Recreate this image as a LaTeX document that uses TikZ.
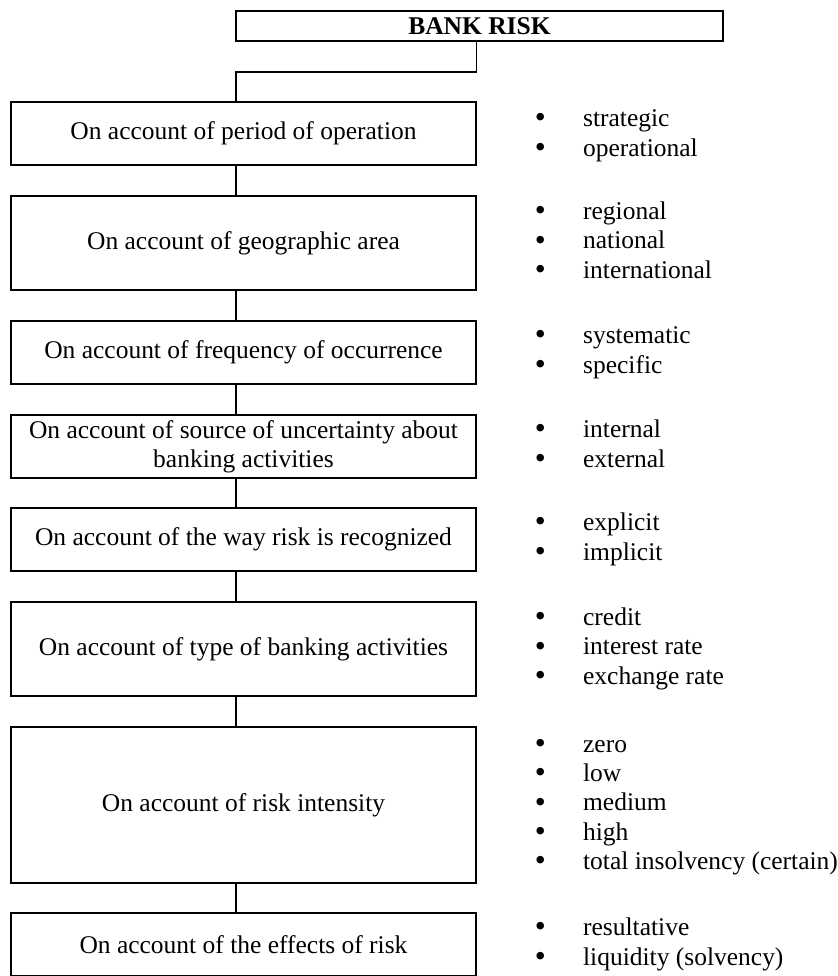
\documentclass[tikz,border=0pt]{standalone}
\usepackage{fontspec}
\setmainfont{Liberation Serif}
\usetikzlibrary{positioning}

\tikzset{
  catbox/.style={draw,line width=0.7pt,minimum width=237.2pt,minimum height=32.1pt,align=center,inner sep=2pt},
  midbox/.style={catbox,minimum height=47.9pt},
  bigbox/.style={catbox,minimum height=79.6pt},
  headbox/.style={draw,line width=0.7pt,minimum width=248.4pt,minimum height=15.3pt,inner sep=0pt,
    font=\fontsize{13}{15}\selectfont\bfseries},
  proplist/.style={anchor=west,inner sep=0pt,align=left}
}
\newcommand{\blt}{{\fontsize{16}{15}\selectfont\raisebox{-0.6pt}{\textbullet}}}
\newcommand{\props}[1]{\begin{tabular}{@{}c@{\hspace{19pt}}l@{}}#1\end{tabular}}

\begin{document}
\begin{tikzpicture}[x=0.51pt,y=-0.51pt,font=\fontsize{13}{15}\selectfont]
      \useasboundingbox (0,0) rectangle (838,976);

      % head of the tree
      \node[headbox] (risk) at (479.5,26) {BANK RISK};
      \coordinate (bend) at (236,72);

      % left column: criteria
      \node[catbox] (c1) at (243.5,133.5) {On account of period of operation};
      \node[midbox] (c2) at (243.5,243) {On account of geographic area};
      \node[catbox] (c3) at (243.5,352.5) {On account of frequency of occurrence};
      \node[catbox] (c4) at (243.5,446.5) {On account of source of uncertainty about\\banking activities};
      \node[catbox] (c5) at (243.5,539.5) {On account of the way risk is recognized};
      \node[midbox] (c6) at (243.5,649) {On account of type of banking activities};
      \node[bigbox] (c7) at (243.5,805) {On account of risk intensity};
      \node[catbox] (c8) at (243.5,944.5) {On account of the effects of risk};

      \draw[line width=0.7pt] (c1.east |- risk.south) |- (bend) -- (bend |- c1.north);
      \draw[line width=0.7pt] (c1.south -| bend) -- (c2.north -| bend);
      \draw[line width=0.7pt] (c2.south -| bend) -- (c3.north -| bend);
      \draw[line width=0.7pt] (c3.south -| bend) -- (c4.north -| bend);
      \draw[line width=0.7pt] (c4.south -| bend) -- (c5.north -| bend);
      \draw[line width=0.7pt] (c5.south -| bend) -- (c6.north -| bend);
      \draw[line width=0.7pt] (c6.south -| bend) -- (c7.north -| bend);
      \draw[line width=0.7pt] (c7.south -| bend) -- (c8.north -| bend);

      % right column: kinds of risk
      \node[proplist] (p1) at (534.5,135.5) {\props{\blt & strategic\\ \blt & operational}};
      \node[proplist] (p2) at (534.5,243) {\props{\blt & regional\\ \blt & national\\ \blt & international}};
      \node[proplist] (p3) at (534.5,352.5) {\props{\blt & systematic\\ \blt & specific}};
      \node[proplist] (p4) at (534.5,446.5) {\props{\blt & internal\\ \blt & external}};
      \node[proplist] (p5) at (534.5,539.5) {\props{\blt & explicit\\ \blt & implicit}};
      \node[proplist] (p6) at (534.5,649) {\props{\blt & credit\\ \blt & interest rate\\ \blt & exchange rate}};
      \node[proplist] (p7) at (534.5,805) {\props{\blt & zero\\ \blt & low\\ \blt & medium\\ \blt & high\\ \blt & total insolvency (certain)}};
      \node[proplist] (p8) at (534.5,944.5) {\props{\blt & resultative\\ \blt & liquidity (solvency)}};
\end{tikzpicture}
\end{document}
